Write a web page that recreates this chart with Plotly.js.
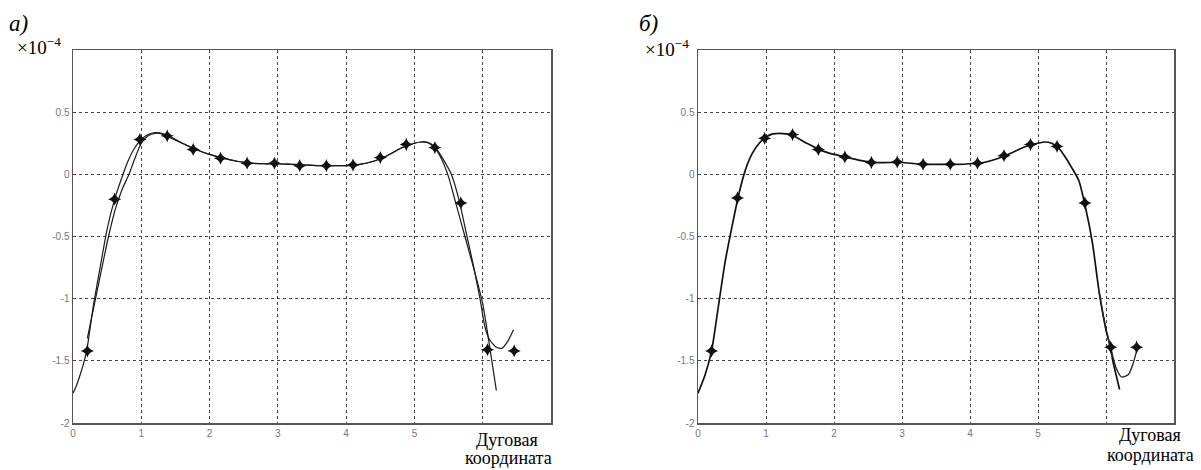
<!DOCTYPE html>
<html>
<head>
<meta charset="utf-8">
<script src="https://cdn.plot.ly/plotly-3.0.1.min.js"></script>
<style>html,body{margin:0;padding:0;background:#fff;}#chart{width:1201px;height:470px;}</style>
</head>
<body>
<div id="chart"></div>
<script>
// ---- Panel а) : curve A (smooth, from 0) ----
const aCurveAX = [0,0.05,0.1,0.15,0.2,0.25,0.3,0.4,0.5,0.6,0.7,0.8,0.9,1.0,1.1,1.2,1.3,1.4,1.5,1.6,1.8,2.0,2.2,2.4,2.6,2.8,3.0,3.2,3.4,3.6,3.8,4.0,4.2,4.4,4.6,4.8,5.0,5.1,5.2,5.3,5.4,5.5,5.6,5.7,5.8,5.9,6.0,6.1,6.2];
const aCurveAY = [-1.76,-1.70,-1.62,-1.53,-1.42,-1.24,-1.05,-0.74,-0.44,-0.22,-0.05,0.10,0.21,0.28,0.32,0.335,0.33,0.31,0.28,0.25,0.20,0.16,0.13,0.105,0.09,0.085,0.085,0.08,0.075,0.07,0.07,0.07,0.08,0.105,0.15,0.21,0.25,0.26,0.255,0.21,0.12,-0.02,-0.22,-0.42,-0.62,-0.82,-1.04,-1.38,-1.74];
// ---- Panel а) : curve B (shifted, ends with a dip) ----
const aCurveBX = [0.21,0.33,0.45,0.52,0.62,0.72,0.82,0.9,1.0,1.1,1.2,1.3,1.4,1.6,1.8,2.0,2.2,2.4,2.6,2.8,3.0,3.2,3.4,3.6,3.8,4.0,4.2,4.4,4.6,4.8,5.0,5.1,5.2,5.3,5.4,5.54,5.65,5.77,5.87,5.96,6.03,6.1,6.2,6.28,6.37,6.45];
const aCurveBY = [-1.32,-1.0,-0.68,-0.5,-0.28,-0.12,0.0,0.12,0.25,0.31,0.33,0.325,0.30,0.25,0.20,0.16,0.13,0.105,0.09,0.085,0.085,0.08,0.075,0.07,0.07,0.07,0.08,0.105,0.15,0.21,0.25,0.26,0.255,0.22,0.14,0.0,-0.2,-0.5,-0.75,-1.0,-1.22,-1.33,-1.39,-1.40,-1.34,-1.25];
// ---- Panel а) : markers ----
const aMarkX = [0.21,0.61,0.98,1.38,1.76,2.16,2.55,2.95,3.32,3.71,4.10,4.50,4.88,5.30,5.68,6.07,6.46];
const aMarkY = [-1.42,-0.20,0.28,0.31,0.20,0.13,0.09,0.09,0.07,0.07,0.075,0.135,0.24,0.215,-0.23,-1.41,-1.42];

// ---- Panel б) : curve A ----
const bCurveAX = [0,0.1,0.2,0.3,0.4,0.5,0.6,0.7,0.8,0.9,1.0,1.1,1.2,1.3,1.4,1.6,1.8,2.0,2.2,2.4,2.6,2.8,3.0,3.2,3.4,3.6,3.8,4.0,4.2,4.4,4.6,4.8,5.0,5.1,5.2,5.3,5.4,5.5,5.6,5.7,5.8,5.9,6.0,6.07,6.1,6.2];
const bCurveAY = [-1.76,-1.62,-1.42,-1.06,-0.70,-0.42,-0.16,0.04,0.17,0.25,0.30,0.325,0.33,0.325,0.31,0.25,0.195,0.16,0.135,0.11,0.095,0.095,0.095,0.085,0.08,0.08,0.08,0.085,0.095,0.125,0.17,0.22,0.25,0.26,0.25,0.215,0.14,0.05,-0.05,-0.27,-0.55,-0.95,-1.25,-1.40,-1.50,-1.73];
// ---- Panel б) : curve B tail (dip) ----
const bCurveBX = [5.9,6.0,6.07,6.15,6.23,6.33,6.4,6.46];
const bCurveBY = [-0.95,-1.25,-1.40,-1.56,-1.63,-1.61,-1.52,-1.40];
// ---- Panel б) : markers ----
const bMarkX = [0.20,0.58,0.98,1.39,1.77,2.16,2.55,2.93,3.31,3.71,4.11,4.50,4.89,5.28,5.69,6.07,6.45];
const bMarkY = [-1.42,-0.19,0.29,0.32,0.20,0.14,0.095,0.10,0.082,0.082,0.09,0.15,0.24,0.225,-0.23,-1.39,-1.39];

// ---- ticks ----
const xTickVals = [0,1,2,3,4,5];
const xTickText = ['0','1','2','3','4','5'];
const xExtraGrid = [6];
const yTickVals = [-2,-1.5,-1,-0.5,0,0.5];
const yTickText = ['-2','-1.5','-1','-0.5','0','0.5'];
const panelLabels = ['а)','б)'];
const xAxisLabelLines = ['Дуговая','координата'];
const scaleLabel = '×10<sup>−4</sup>';

const lineStyle = {color:'#1a1a1a', width:1.2};
const markStyle = {symbol:'star-diamond', size:9.5, color:'#111'};

const traces = [
  {x:aCurveAX, y:aCurveAY, xaxis:'x', yaxis:'y', mode:'lines', line:Object.assign({shape:'spline', smoothing:0.6}, lineStyle)},
  {x:aCurveBX, y:aCurveBY, xaxis:'x', yaxis:'y', mode:'lines', line:Object.assign({shape:'spline', smoothing:0.6}, lineStyle)},
  {x:aMarkX, y:aMarkY, xaxis:'x', yaxis:'y', mode:'markers', marker:markStyle},
  {x:bCurveAX, y:bCurveAY, xaxis:'x2', yaxis:'y2', mode:'lines', line:{shape:'spline', smoothing:0.6, color:'#111', width:1.7}},
  {x:bCurveBX, y:bCurveBY, xaxis:'x2', yaxis:'y2', mode:'lines', line:{shape:'spline', smoothing:0.6, color:'#222', width:1.3}},
  {x:bMarkX, y:bMarkY, xaxis:'x2', yaxis:'y2', mode:'markers', marker:markStyle}
];

const gridStyle = {gridcolor:'#444', gridwidth:1, griddash:'3px,3px'};
const tickFont = {family:'Liberation Sans, Arial', size:10, color:'#777'};

function xAx(domain, anchor){
  return Object.assign({domain:domain, anchor:anchor, range:[0,7], tickmode:'array', tickvals:xTickVals, ticktext:xTickText,
    showgrid:true, zeroline:false,
    minor:Object.assign({tickmode:'array', tickvals:xExtraGrid, showgrid:true, ticks:''}, gridStyle),
    showline:true, mirror:true, linecolor:'#555', linewidth:1.5, ticks:'',
    tickfont:tickFont, fixedrange:true}, gridStyle);
}
function yAx(domain, anchor){
  return Object.assign({domain:domain, anchor:anchor, range:[-2,1], tickmode:'array', tickvals:yTickVals, ticktext:yTickText,
    showgrid:true, zeroline:false,
    showline:true, mirror:true, linecolor:'#555', linewidth:1.5, ticks:'',
    tickfont:tickFont, fixedrange:true}, gridStyle);
}

const W = 1201, H = 470;
const yDom = [1-423/H, 1-50/H];
const serif = 'Liberation Serif, Times New Roman, serif';

function ann(text, px, py, anchor, size, extra){
  return Object.assign({text:text, xref:'paper', yref:'paper', x:px/W, y:1-py/H, xanchor:anchor, yanchor:'middle', showarrow:false,
    font:{family:serif, size:size, color:'#000'}}, extra||{});
}

const layout = {
  width:W, height:H, showlegend:false,
  margin:{l:0,r:0,t:0,b:0},
  paper_bgcolor:'#fff', plot_bgcolor:'#fff',
  xaxis: xAx([73/W, 551/W], 'y'),
  yaxis: yAx(yDom, 'x'),
  xaxis2: xAx([698/W, 1174/W], 'y2'),
  yaxis2: yAx(yDom, 'x2'),
  annotations:[
    ann(panelLabels[0], 18, 23, 'center', 23, {font:{family:serif, size:23, color:'#000', style:'italic'}}),
    ann(panelLabels[1], 648, 24, 'center', 23, {font:{family:serif, size:23, color:'#000', style:'italic'}}),
    ann(scaleLabel, 15, 46, 'left', 19),
    ann(scaleLabel, 643, 48, 'left', 19),
    ann(xAxisLabelLines[0], 507, 440, 'center', 18),
    ann(xAxisLabelLines[1], 508, 458, 'center', 18),
    ann(xAxisLabelLines[0], 1150, 435, 'center', 18),
    ann(xAxisLabelLines[1], 1150, 455, 'center', 18)
  ]
};

Plotly.newPlot('chart', traces, layout, {staticPlot:true, displayModeBar:false});
</script>
</body>
</html>
